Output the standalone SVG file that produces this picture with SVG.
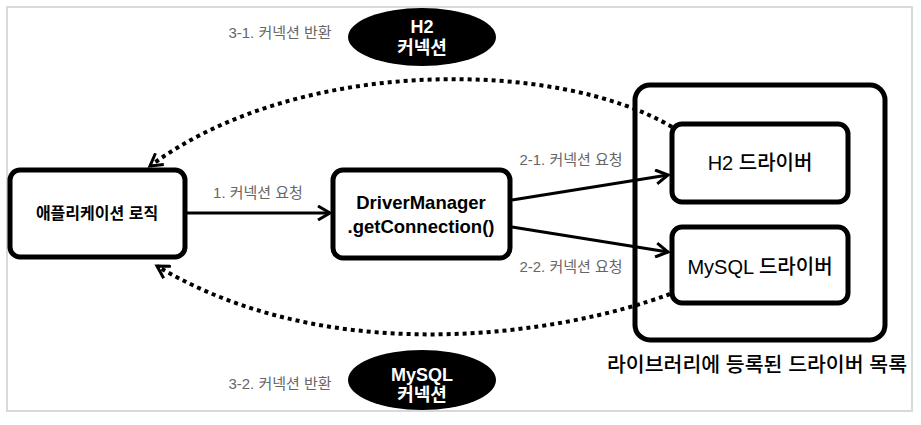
<svg xmlns="http://www.w3.org/2000/svg" width="921" height="425" viewBox="0 0 921 425">
<style>
.box{fill:#fff;stroke:#000;stroke-width:5}
.lbl{font-family:"Liberation Sans","Noto Sans CJK KR",sans-serif;font-size:15px;fill:#666;text-anchor:middle}
.t{font-family:"Liberation Sans","Noto Sans CJK KR",sans-serif;fill:#000;text-anchor:middle}
.w{font-family:"Liberation Sans","Noto Sans CJK KR",sans-serif;fill:#fff;text-anchor:middle;font-weight:bold;font-size:18px}
.solid{fill:none;stroke:#000;stroke-width:3}
.dot{fill:none;stroke:#000;stroke-width:4;stroke-dasharray:4 4}
</style>
<defs>
<marker id="ah" viewBox="0 0 16 16" refX="13" refY="8" markerWidth="16" markerHeight="16" markerUnits="userSpaceOnUse" orient="auto">
<path d="M1,1 L13,8 L1,15" fill="none" stroke="#000" stroke-width="3" stroke-dasharray="none"/>
</marker>
</defs>
<rect x="7" y="7" width="905" height="404" fill="#fff" stroke="#d9d9d9" stroke-width="2"/>

<g id="driverList">
<rect x="635" y="85" width="250" height="255" rx="15" fill="none" stroke="#000" stroke-width="5"/>
<text class="t" x="757" y="372" font-size="20.5" font-weight="500">라이브러리에 등록된 드라이버 목록</text>
</g>

<g id="connectors">
<path class="solid" d="M187,213 L330,213" marker-end="url(#ah)"/>
<path class="solid" d="M512,200 L668,175" marker-end="url(#ah)"/>
<path class="solid" d="M512,227 L668,252" marker-end="url(#ah)"/>
<path class="dot" d="M672,127 C560,60 300,55 150,166" marker-end="url(#ah)"/>
<path class="dot" d="M670,294 C560,335 330,370 157,266" marker-end="url(#ah)"/>
<text class="lbl" x="258" y="198">1. 커넥션 요청</text>
<text class="lbl" x="571" y="165">2-1. 커넥션 요청</text>
<text class="lbl" x="571" y="272">2-2. 커넥션 요청</text>
<text class="lbl" x="280" y="38">3-1. 커넥션 반환</text>
<text class="lbl" x="280" y="389">3-2. 커넥션 반환</text>
</g>

<g id="h2conn">
<ellipse cx="422" cy="37" rx="74" ry="29" fill="#000"/>
<text class="w" x="422" y="33">H2</text>
<text class="w" x="422" y="54">커넥션</text>
</g>
<g id="mysqlconn">
<ellipse cx="422" cy="380" rx="74" ry="30" fill="#000"/>
<text class="w" x="422" y="381">MySQL</text>
<text class="w" x="422" y="401">커넥션</text>
</g>

<g id="app">
<rect class="box" x="10" y="170" width="175" height="87" rx="10"/>
<text class="t" x="97" y="219" font-size="16" font-weight="bold">애플리케이션 로직</text>
</g>
<g id="driverManager">
<rect class="box" x="333" y="170" width="177" height="88" rx="10"/>
<text class="t" x="421" y="209" font-size="18.5" font-weight="bold">DriverManager</text>
<text class="t" x="421" y="233" font-size="18.5" font-weight="bold">.getConnection()</text>
</g>
<g id="h2driver">
<rect class="box" x="672" y="124" width="176" height="78" rx="10"/>
<text class="t" x="760" y="170" font-size="20" font-weight="500">H2 드라이버</text>
</g>
<g id="mysqldriver">
<rect class="box" x="672" y="227" width="176" height="76" rx="10"/>
<text class="t" x="760" y="274" font-size="20" font-weight="500">MySQL 드라이버</text>
</g>
</svg>
